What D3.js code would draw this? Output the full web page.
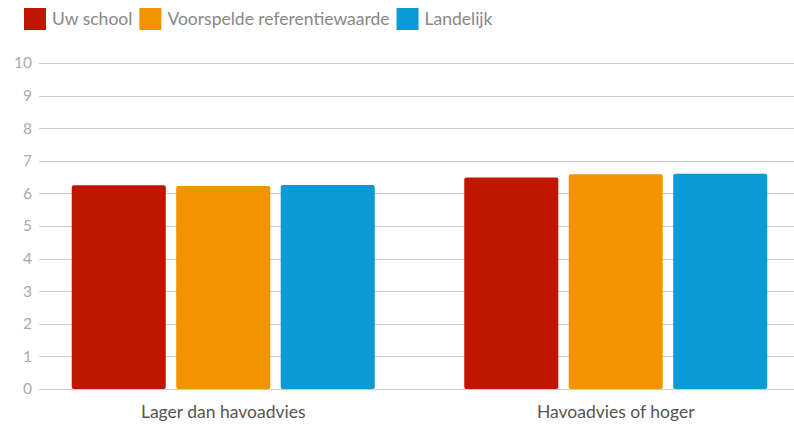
<!DOCTYPE html>
<html><head><meta charset="utf-8">
<script src="https://cdn.jsdelivr.net/npm/d3@7"></script>
<style>body{margin:0;background:#fff}svg{display:block}</style>
</head><body><svg id="c" width="794" height="430"></svg>
<script>
const categories = ["Lager dan havoadvies", "Havoadvies of hoger"];
const seriesNames = ["Uw school", "Voorspelde referentiewaarde", "Landelijk"];
const seriesColors = ["#bf1600", "#f29400", "#0a9ad6"];
const uwSchool = [6.25, 6.49];
const voorspeld = [6.23, 6.59];
const landelijk = [6.26, 6.60];
const yTicks = [0,1,2,3,4,5,6,7,8,9,10];

const values = [uwSchool, voorspeld, landelijk];
const font = "Lato, 'Open Sans', sans-serif";
const svg = d3.select("#c");

const y = d3.scaleLinear().domain([0,10]).range([389, 63]);
const x0 = d3.scaleBand().domain(categories).range([27, 812]).paddingInner(0.228).paddingOuter(0.114);
const x1 = d3.scaleBand().domain(seriesNames).range([0, x0.bandwidth()]).paddingInner(0.1).paddingOuter(0);

// grid
svg.append("g").selectAll("line").data(yTicks).join("line")
  .attr("x1", 39).attr("x2", 794)
  .attr("y1", d => Math.round(y(d)) + 0.5).attr("y2", d => Math.round(y(d)) + 0.5)
  .attr("stroke", "#cccccc").attr("stroke-width", 1);

svg.append("g").selectAll("text").data(yTicks).join("text")
  .attr("x", 32).attr("y", d => y(d)).attr("dy", "0.35em")
  .attr("text-anchor", "end").attr("fill", "#aaaaaa")
  .attr("font-family", font).attr("font-size", 15.5).text(d => d);

// bars
const g = svg.append("g");
categories.forEach((c, ci) => {
  seriesNames.forEach((s, si) => {
    const v = values[si][ci];
    g.append("rect")
      .attr("x", x0(c) + x1(s)).attr("width", x1.bandwidth())
      .attr("y", y(v)).attr("height", y(0) - y(v))
      .attr("rx", 2).attr("fill", seriesColors[si]);
  });
});

// category labels
svg.append("g").selectAll("text").data(categories).join("text")
  .attr("x", d => x0(d) + x0.bandwidth()/2).attr("y", 418)
  .attr("text-anchor", "middle").attr("fill", "#555555")
  .attr("font-family", font).attr("font-size", 17.5).text(d => d);

// legend
const leg = svg.append("g");
let lx = 24;
seriesNames.forEach((s, i) => {
  leg.append("rect").attr("x", lx).attr("y", 8).attr("width", 22).attr("height", 22).attr("fill", seriesColors[i]);
  const t = leg.append("text").attr("x", lx + 28).attr("y", 19).attr("dy", "0.35em")
    .attr("fill", "#888888").attr("font-family", font).attr("font-size", 17.5).text(s);
  lx += 28 + t.node().getComputedTextLength() + 7;
});
</script></body></html>
